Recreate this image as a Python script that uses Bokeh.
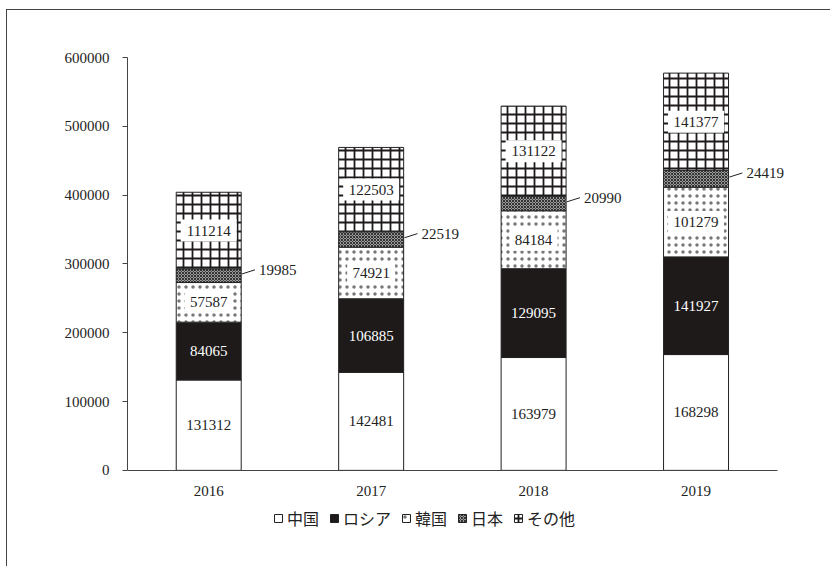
from bokeh.plotting import figure
from bokeh.models import (ColumnDataSource, Legend, LegendItem, Range1d,
                          NumeralTickFormatter, FixedTicker)
from bokeh.core.properties import value
from bokeh.embed import file_html
from bokeh.resources import INLINE

years = ["2016", "2017", "2018", "2019"]
china = [131312, 142481, 163979, 168298]
russia = [84065, 106885, 129095, 141927]
korea = [57587, 74921, 84184, 101279]
japan = [19985, 22519, 20990, 24419]
other = [111214, 122503, 131122, 141377]
series_names = ["中国", "ロシア", "韓国", "日本", "その他"]
y_ticks = [0, 100000, 200000, 300000, 400000, 500000, 600000]

SERIF = "Liberation Serif"
xs = [i + 0.5 for i in range(len(years))]

# frame extends below zero to hold the legend (so it is not clipped)
p = figure(width=824, height=557, x_range=Range1d(0, 4.1),
           y_range=Range1d(-87400, 600000), output_backend="svg", toolbar_location=None,
           min_border_left=120, min_border_right=38, min_border_top=47, min_border_bottom=37)
p.styles = {"border-left": "1px solid #444", "border-top": "1px solid #444",
            "margin-left": "6px", "margin-top": "9px"}
p.outline_line_color = None
p.xgrid.visible = False
p.ygrid.visible = False

styles = [
    dict(fill_color="white"),
    dict(fill_color="#1e1a1a"),
    dict(fill_color="white", hatch_pattern="dot", hatch_scale=7, hatch_weight=0.3, hatch_color="#777"),
    dict(fill_color="#9a9a9a", hatch_pattern="diagonal_cross", hatch_scale=3, hatch_weight=1, hatch_color="#333"),
    dict(fill_color="white", hatch_pattern="cross", hatch_scale=9, hatch_weight=1.8, hatch_color="#1e1a1a"),
]

series = [china, russia, korea, japan, other]
bottoms = [0] * len(years)
items = []
label_sources = []
for name, vals, st in zip(series_names, series, styles):
    tops = [b + v for b, v in zip(bottoms, vals)]
    mids = [(b + t) / 2 for b, t in zip(bottoms, tops)]
    src = ColumnDataSource(dict(x=xs, bottom=bottoms, top=tops, mid=mids,
                                label=[str(v) for v in vals],
                                boxw=[8 * len(str(v)) + 8 for v in vals],
                                lx0=[x + 0.205 for x in xs], lx1=[x + 0.285 for x in xs],
                                tx=[x + 0.31 for x in xs],
                                ly0=[m + 2500 for m in mids], ly1=[m + 8500 for m in mids],
                                ty=[m + 8500 for m in mids]))
    r = p.vbar(x="x", bottom="bottom", top="top", width=0.4, source=src,
               line_color="#222", line_width=1, **st)
    items.append(LegendItem(label=name, renderers=[r]))
    label_sources.append((name, src))
    bottoms = tops

for name, src in label_sources:
    if name == "日本":
        p.segment(x0="lx0", y0="ly0", x1="lx1", y1="ly1",
                  source=src, line_color="#222", line_width=1)
        p.text(x="tx", y="ty", text="label", source=src,
               text_font=value(SERIF), text_font_size="15px", text_color="#222",
               text_baseline="middle", text_align="left")
    else:
        if name in ("韓国", "その他"):
            p.rect(x="x", y="mid", width="boxw", height=22, width_units="screen",
                   height_units="screen", source=src, fill_color="white", line_color=None)
        color = "white" if name == "ロシア" else "#222"
        p.text(x="x", y="mid", text="label", source=src,
               text_font=value(SERIF), text_font_size="15px", text_color=color,
               text_baseline="middle", text_align="center")

p.xaxis.ticker = FixedTicker(ticks=xs)
p.xaxis.major_label_overrides = {x: y for x, y in zip(xs, years)}
p.xaxis.bounds = (0, len(years))
p.xaxis.fixed_location = 0
p.xaxis.minor_tick_line_color = None
p.yaxis.ticker = FixedTicker(ticks=y_ticks)
p.yaxis.bounds = (0, 600000)
p.yaxis.formatter = NumeralTickFormatter(format="0")
p.yaxis.minor_tick_line_color = None
p.yaxis.major_tick_in = 0
p.yaxis.major_tick_out = 5
p.yaxis.major_label_standoff = 13
p.xaxis.major_tick_in = 0
p.xaxis.major_tick_out = 0
p.xaxis.major_label_standoff = 16
for ax in (p.xaxis, p.yaxis):
    ax.axis_line_color = "#444"
    ax.major_tick_line_color = "#444"
    ax.major_label_text_font = SERIF
    ax.major_label_text_font_size = "15px"
    ax.major_label_text_color = "#222"

legend = Legend(items=items, location=(146, 0), orientation="horizontal",
                glyph_width=10, glyph_height=10, label_standoff=4, spacing=10,
                label_text_font="Noto Sans CJK JP", label_text_font_size="16px",
                label_text_color="#222", border_line_alpha=0, background_fill_alpha=0,
                padding=0, margin=0)
p.add_layout(legend, "center")

open("out.html", "w").write(file_html(p, INLINE))
